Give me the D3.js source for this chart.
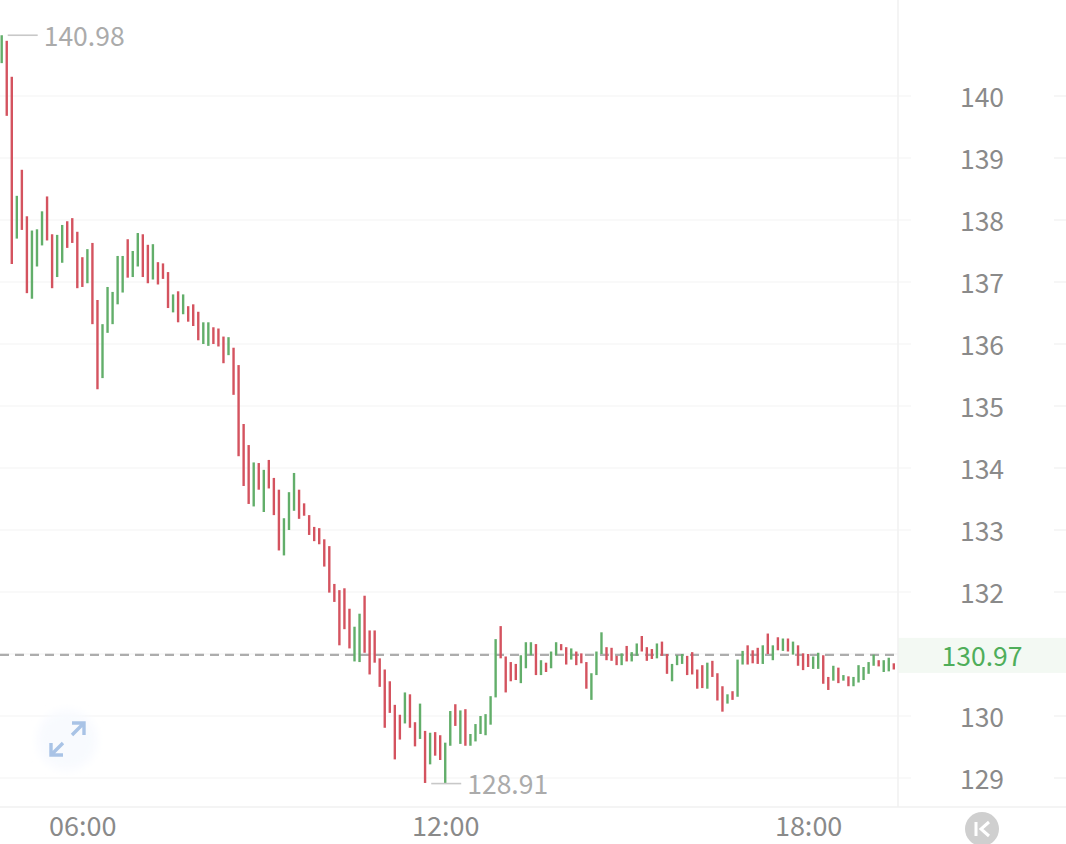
<!DOCTYPE html>
<html>
<head>
<meta charset="utf-8">
<script src="https://cdn.jsdelivr.net/npm/d3@7"></script>
<style>
  html, body { margin: 0; padding: 0; background: #fff; overflow: hidden; }
  svg { display: block; }
  svg text { font-family: "Noto Sans CJK SC", "Noto Sans", sans-serif; }
</style>
</head>
<body>
<svg id="chart" width="1066" height="844"></svg>
<script>
// 5 minute bars, first bar at 04:40
const highs = [
  140.98,140.89,140.31,138.39,138.81,138.06,137.83,137.85,138.14,138.38,
  137.77,137.76,137.92,137.98,138.03,137.81,137.40,137.53,137.63,136.71,
  136.32,136.92,136.84,137.42,137.42,137.69,137.50,137.79,137.77,137.60,
  137.61,137.32,137.30,137.16,136.80,136.85,136.80,136.61,136.64,136.52,
  136.35,136.35,136.27,136.25,136.12,136.11,135.94,135.66,134.71,134.37,
  134.09,134.08,133.97,134.13,133.84,133.65,133.19,133.61,133.92,133.65,
  133.43,133.24,133.05,133.03,132.85,132.74,132.13,132.03,132.06,131.73,
  131.44,131.65,131.94,131.38,131.38,130.93,130.75,130.56,130.18,130.02,
  130.38,130.35,129.90,130.20,129.76,129.73,129.74,129.69,129.57,130.08,
  130.19,130.09,130.11,129.71,129.87,130.00,130.03,130.32,131.24,131.45,
  130.96,130.87,130.84,130.98,131.19,131.19,131.16,130.90,130.86,131.04,
  131.19,131.16,131.11,131.09,131.04,131.01,130.87,130.69,131.04,131.35,
  131.11,131.10,130.97,131.01,131.13,131.03,131.17,131.29,131.11,131.08,
  131.17,131.20,131.00,130.84,130.98,131.00,130.97,131.03,130.75,130.82,
  130.86,130.89,130.69,130.48,130.35,130.40,130.91,131.05,131.14,131.06,
  131.10,131.14,131.33,131.14,131.27,131.25,131.25,131.20,131.14,131.01,
  131.00,130.96,131.02,130.98,130.63,130.81,130.78,130.66,130.64,130.63,
  130.82,130.79,130.87,130.99,130.90,130.90,130.94,130.85
];
const lows = [
  140.53,139.68,137.29,137.70,137.84,136.82,136.73,137.25,137.59,137.67,
  136.90,137.08,137.31,137.55,137.63,136.90,136.92,136.98,136.32,135.27,
  135.45,136.18,136.32,136.64,136.83,137.07,137.08,137.25,137.08,136.98,
  137.04,136.96,137.05,136.58,136.51,136.35,136.48,136.36,136.29,136.06,
  136.00,135.97,136.00,135.96,135.69,135.82,135.18,134.19,133.71,133.42,
  133.38,133.65,133.29,133.67,133.24,132.67,132.59,133.00,133.31,133.18,
  133.23,132.92,132.82,132.77,132.41,131.99,131.84,131.14,131.40,131.09,
  130.88,130.87,131.02,130.67,130.86,130.47,129.81,130.05,129.30,129.62,
  129.88,129.81,129.51,129.63,128.92,129.22,129.36,129.29,128.91,129.52,
  129.84,129.55,129.52,129.52,129.59,129.71,129.69,129.86,130.30,130.93,
  130.38,130.56,130.58,130.53,130.77,130.98,130.66,130.66,130.71,130.77,
  130.98,131.06,130.83,130.91,130.82,130.85,130.44,130.26,130.66,131.00,
  130.90,130.89,130.82,130.82,130.88,130.88,130.97,131.04,130.89,130.92,
  130.93,130.97,130.68,130.56,130.82,130.84,130.66,130.67,130.44,130.45,
  130.44,130.63,130.25,130.07,130.20,130.26,130.31,130.83,130.83,130.85,
  130.84,130.84,131.00,130.90,131.06,131.05,131.04,130.99,130.81,130.74,
  130.79,130.76,130.76,130.52,130.42,130.57,130.53,130.57,130.48,130.48,
  130.54,130.58,130.68,130.81,130.80,130.71,130.72,130.75
];
// g = closed up, r = closed down
const dirs = (
  "grrgrrgggr" + "rggrrrrgrr" + "gggggrggrr" + "grrrgrgrrr" +
  "ggrrrgrrrr" + "grgrrrgggr" + "rrrrrrrrrr" + "ggrrrrrrrr" +
  "grrgrgrrgg" + "rgrggggggr" + "rrrgggrgrg" + "grrgrrrggg" +
  "rrrgrggrrr" + "grrgggrrrr" + "grrrgrggrr" + "rgrgrgrgrr" +
  "rggrrgrgrg" + "ggggrggr"
).split("");

const yTicks = [129, 130, 131, 132, 133, 134, 135, 136, 137, 138, 139, 140];
const yLabelTicks = [129, 130, 132, 133, 134, 135, 136, 137, 138, 139, 140];
const timeTicks = ["06:00", "12:00", "18:00"];
const lastPrice = 130.97;
const maxPrice = 140.98;
const minPrice = 128.91;

const WIDTH = 1066, HEIGHT = 844;
const PLOT_RIGHT = 898, PLOT_BOTTOM = 807;
const GREEN = "#62ae6a", RED = "#d4535f";

const svg = d3.select("#chart");

// Soft edge for the expand button
svg.append("defs").append("filter")
  .attr("id", "soft")
  .attr("x", "-30%").attr("y", "-30%").attr("width", "160%").attr("height", "160%")
  .append("feGaussianBlur").attr("stdDeviation", 5);

const parseTime = d3.utcParse("%H:%M");
const start = parseTime("04:40");
const times = highs.map((_, i) => d3.utcMinute.offset(start, i * 5));

const x = d3.scaleUtc()
  .domain([start, times[times.length - 1]])
  .range([1.7, 893.8]);

const y = d3.scaleLinear()
  .domain([129, 140])
  .range([778, 96]);

// ----- GRID -----
const grid = svg.append("g");
grid.selectAll("line.grid")
  .data(yTicks)
  .join("line")
  .attr("class", "grid")
  .attr("x1", 0).attr("x2", 911)
  .attr("y1", d => y(d)).attr("y2", d => y(d))
  .attr("stroke", "#f4f4f4").attr("stroke-width", 1.2);
grid.selectAll("line.stub")
  .data(yTicks)
  .join("line")
  .attr("class", "stub")
  .attr("x1", 1054).attr("x2", WIDTH)
  .attr("y1", d => y(d)).attr("y2", d => y(d))
  .attr("stroke", "#f0f0f0").attr("stroke-width", 1.2);

// Last price band sits behind the axis text
svg.append("rect")
  .attr("x", PLOT_RIGHT).attr("y", y(lastPrice) - 18)
  .attr("width", WIDTH - PLOT_RIGHT).attr("height", 35)
  .attr("fill", "#f3f9f3");

svg.append("line")
  .attr("x1", PLOT_RIGHT).attr("x2", PLOT_RIGHT)
  .attr("y1", 0).attr("y2", PLOT_BOTTOM)
  .attr("stroke", "#f1f1f1").attr("stroke-width", 1.5);
svg.append("line")
  .attr("x1", 0).attr("x2", WIDTH)
  .attr("y1", PLOT_BOTTOM).attr("y2", PLOT_BOTTOM)
  .attr("stroke", "#f1f1f1").attr("stroke-width", 1.5);

// ----- LAST PRICE LINE -----
svg.append("line")
  .attr("x1", 0).attr("x2", PLOT_RIGHT)
  .attr("y1", y(lastPrice) - 1).attr("y2", y(lastPrice) - 1)
  .attr("stroke", "#adadad").attr("stroke-width", 2.4)
  .attr("stroke-dasharray", "9,6");

// ----- BARS -----
svg.append("g").selectAll("line")
  .data(highs)
  .join("line")
  .attr("x1", (_, i) => x(times[i])).attr("x2", (_, i) => x(times[i]))
  .attr("y1", d => y(d)).attr("y2", (_, i) => y(lows[i]))
  .attr("stroke", (_, i) => dirs[i] === "g" ? GREEN : RED)
  .attr("stroke-width", 2.4);

// ----- AXES -----
const yAxis = d3.axisRight(y).tickValues(yLabelTicks).tickSize(0).tickFormat(d3.format("d"));
const yG = svg.append("g").attr("transform", "translate(982,0)").call(yAxis);
yG.select(".domain").remove();
yG.selectAll("text")
  .attr("x", 0).attr("dy", ".38em")
  .attr("text-anchor", "middle")
  .attr("fill", "#8a8a8a").attr("font-size", 26.5);

const xAxis = d3.axisBottom(x)
  .tickValues(timeTicks.map(parseTime))
  .tickSize(0)
  .tickFormat(d3.utcFormat("%H:%M"));
const xG = svg.append("g").attr("transform", "translate(0,826.5)").call(xAxis);
xG.select(".domain").remove();
xG.selectAll("text")
  .attr("y", 0).attr("dy", ".35em")
  .attr("fill", "#8a8a8a").attr("font-size", 27);

svg.append("text")
  .attr("x", 982).attr("y", y(lastPrice) + 1).attr("dy", ".35em")
  .attr("text-anchor", "middle")
  .attr("fill", "#4fae5a").attr("font-size", 26.5)
  .text(lastPrice.toFixed(2));

// ----- HIGH / LOW MARKERS -----
const markers = [
  { price: maxPrice, index: highs.indexOf(maxPrice), dx: 6 },
  { price: minPrice, index: lows.indexOf(minPrice), dx: -14 }
];
const marker = svg.append("g").selectAll("g")
  .data(markers)
  .join("g")
  .attr("transform", d => `translate(${x(times[d.index]) + d.dx},${y(d.price)})`);
marker.append("line")
  .attr("x1", 0).attr("x2", 30)
  .attr("stroke", "#c8c8c8").attr("stroke-width", 1.6);
marker.append("text")
  .attr("x", 36).attr("y", 1).attr("dy", ".35em")
  .attr("fill", "#ababab").attr("font-size", 26.5)
  .text(d => d.price.toFixed(2));

// ----- ICONS -----
const expand = svg.append("g").attr("transform", "translate(67,740)");
expand.append("circle").attr("r", 30).attr("fill", "#f8fafe").attr("filter", "url(#soft)");
expand.append("path")
  .attr("d", "M-16,16L-4,4M-16,4V16H-4M17,-16L5,-4M17,-4V-16H5")
  .attr("transform", "translate(0,-1)")
  .attr("fill", "none").attr("stroke", "#a9c3e6")
  .attr("stroke-width", 3.4);

const back = svg.append("g").attr("transform", "translate(982,829)");
back.append("circle").attr("r", 17).attr("fill", "#cfcfcf");
back.append("path")
  .attr("d", "M-6,-7V7M7,-7L-1,0L7,7")
  .attr("fill", "none").attr("stroke", "#fff")
  .attr("stroke-width", 3);
</script>
</body>
</html>
